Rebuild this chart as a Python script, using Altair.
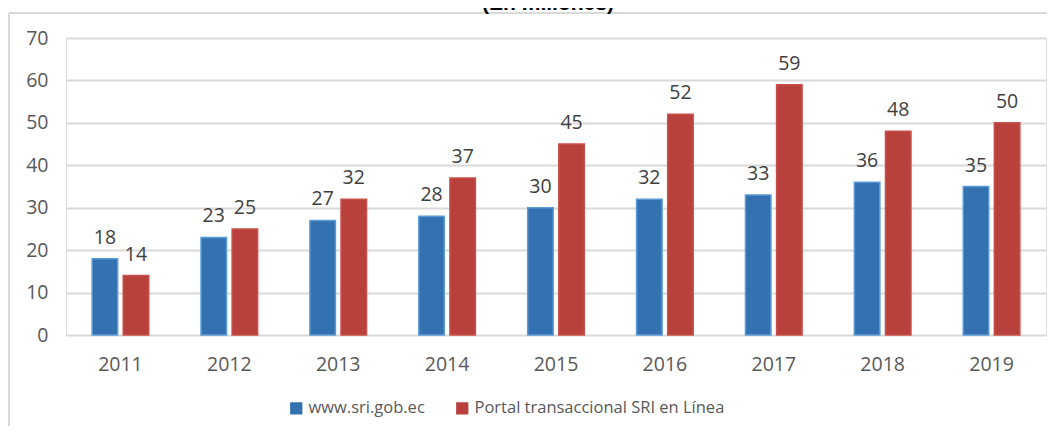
import altair as alt
import pandas as pd

years = ["2011", "2012", "2013", "2014", "2015", "2016", "2017", "2018", "2019"]
web = [18, 23, 27, 28, 30, 32, 33, 36, 35]
portal = [14, 25, 32, 37, 45, 52, 59, 48, 50]
series = ["www.sri.gob.ec", "Portal transaccional SRI en Línea"]
fills = ["#3371b0", "#b8413b"]
strokes = ["#5b9bd5", "#c9504a"]
y_ticks = [0, 10, 20, 30, 40, 50, 60, 70]
title_text = "(En millones)"

rows = []
for i, yr in enumerate(years):
    rows.append({"year": yr, "series": series[0], "value": web[i]})
    rows.append({"year": yr, "series": series[1], "value": portal[i]})
df = pd.DataFrame(rows)

FONT = "Open Sans"
FS = 19.5
W, H = 980, 297

x = alt.X("year:N", sort=years, title=None,
          scale=alt.Scale(paddingInner=0.48, paddingOuter=0.24),
          axis=alt.Axis(labelAngle=0, domain=False, ticks=False, labelPadding=20,
                        labelFont=FONT, labelFontSize=FS, labelColor="#595959"))
xo = alt.XOffset("series:N", sort=series, scale=alt.Scale(paddingInner=0.18, paddingOuter=0))
y = alt.Y("value:Q", title=None,
          scale=alt.Scale(domain=[0, 70], nice=False),
          axis=alt.Axis(values=y_ticks, domain=False, ticks=False, labelPadding=18,
                        grid=True, gridColor="#d9d9d9", gridWidth=1.8,
                        labelFont=FONT, labelFontSize=FS, labelColor="#595959"))

base = alt.Chart(df)

bars = base.mark_bar(strokeWidth=1.5).encode(
    x=x, xOffset=xo, y=y,
    color=alt.Color("series:N", sort=series, title=None,
                    scale=alt.Scale(domain=series, range=fills),
                    legend=alt.Legend(orient="none", legendX=222, legendY=362,
                                      direction="horizontal", symbolType="square",
                                      symbolSize=150, symbolStrokeWidth=0,
                                      labelFont=FONT, labelFontSize=16.5, labelLimit=0,
                                      labelColor="#595959", columnPadding=29,
                                      labelOffset=4)),
    stroke=alt.Stroke("series:N", sort=series,
                      scale=alt.Scale(domain=series, range=strokes), legend=None),
)

labels = base.mark_text(baseline="alphabetic", dy=-15, font=FONT, fontSize=FS,
                        color="#404040").encode(
    x=x, xOffset=xo, y=alt.Y("value:Q", scale=alt.Scale(domain=[0, 70], nice=False)),
    text=alt.Text("value:Q"),
)

frame_top = base.mark_rule(color="#d9d9d9", strokeWidth=2).encode(
    x=alt.value(-57), x2=alt.value(W + 1), y=alt.value(-25))
frame_left = base.mark_rule(color="#d9d9d9", strokeWidth=2).encode(
    x=alt.value(-57), y=alt.value(-25), y2=alt.value(H + 91))

title = alt.Chart(pd.DataFrame({"t": [title_text]})).mark_text(
    font="Liberation Sans", fontWeight="bold", fontSize=21, color="#000000",
    baseline="alphabetic", align="center").encode(
    text="t:N", x=alt.value(482), y=alt.value(-28))

chart = alt.layer(frame_top, frame_left, bars, labels, title).properties(
    width=W, height=H,
    autosize=alt.AutoSizeParams(type="none"),
    padding={"left": 58, "top": 30, "right": 1, "bottom": 91},
).configure_view(stroke=None).configure(background="white")

chart.save("out.html", embed_options={"renderer": "svg", "actions": False})
